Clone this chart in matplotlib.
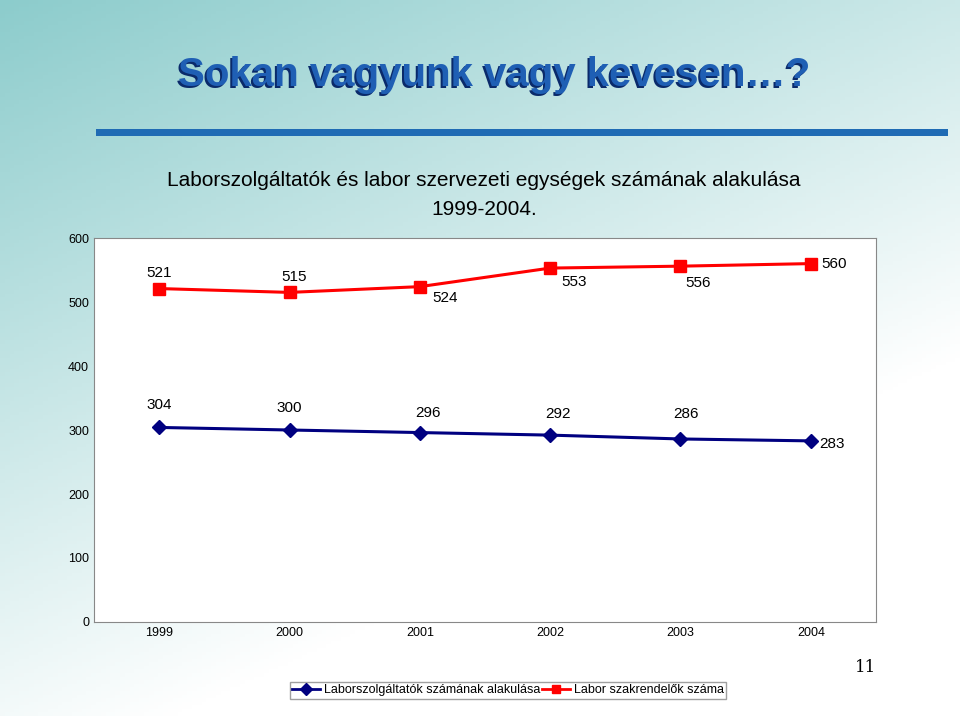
import numpy as np
import matplotlib.pyplot as plt
from matplotlib.lines import Line2D

plt.rcParams['font.family'] = 'Liberation Sans'

# data
years = ['1999', '2000', '2001', '2002', '2003', '2004']
szolg = [304, 300, 296, 292, 286, 283]
rendelo = [521, 515, 524, 553, 556, 560]
yticks = [0, 100, 200, 300, 400, 500, 600]

W, H = 960, 716
fig = plt.figure(figsize=(9.6, 7.16), dpi=100)

# background gradient (teal top-left fading to white)
bg = fig.add_axes([0, 0, 1, 1], zorder=-5)
yy, xx = np.mgrid[0:1:200j, 0:1:200j]
t = np.clip(1 - (0.55 * xx + 0.9 * yy), 0, 1)
c0 = np.array([0.55, 0.80, 0.80])
c1 = np.array([1.0, 1.0, 1.0])
img = c1 + (c0 - c1) * t[..., None]
bg.imshow(img, extent=[0, 1, 0, 1], origin='upper', aspect='auto')
bg.set_axis_off()

fig.text(178 / W, 1 - 75 / H, 'Sokan vagyunk vagy kevesen…?', fontsize=29,
         fontweight='bold', color='#1f5fb4', va='center', zorder=2)
fig.text(176 / W, 1 - 77 / H, 'Sokan vagyunk vagy kevesen…?', fontsize=29,
         fontweight='bold', color='#0a2a6a', va='center', zorder=1)
bar = fig.add_axes([96 / W, 1 - 136 / H, 852 / W, 7 / H])
bar.set_facecolor('#1f6bb4')
bar.set_xticks([]); bar.set_yticks([])
for s in bar.spines.values():
    s.set_visible(False)

fig.text(484 / W, 1 - 180 / H, 'Laborszolgáltatók és labor szervezeti egységek számának alakulása',
         fontsize=15, ha='center', va='center')
fig.text(484 / W, 1 - 210 / H, '1999-2004.', fontsize=15, ha='center', va='center')

ax = fig.add_axes([94 / W, 1 - 622 / H, 782 / W, 384 / H])
ax.set_facecolor('white')
for s in ax.spines.values():
    s.set_color('#888888')

x = np.arange(len(years))
ax.plot(x, szolg, color='#000080', marker='D', markersize=7, lw=2.2, clip_on=False)
ax.plot(x, rendelo, color='red', marker='s', markersize=8, lw=2.2, clip_on=False)
ax.set_xlim(-0.5, 5.5)
ax.set_ylim(0, 596)
ax.set_yticks(yticks)
ax.set_xticks(x, years)
ax.tick_params(labelsize=9, length=0)

blue_off = [(0, 16), (0, 16), (6, 14), (6, 15), (4, 18), (15, -2)]
for i, v in enumerate(szolg):
    dx, dy = blue_off[i]
    ax.annotate(str(v), (i, v), xytext=(dx, dy), textcoords='offset points',
                ha='center', va='center', fontsize=11)
red_pos = [(0, 10), (3, 10), (18, -8), (17, -10), (13, -12), (17, 0)]
red_pos = [(0, 10), (3, 10), (18, -8), (17, -10), (13, -12), (17, 0)]
red_pos = [(0, 11), (3, 11), (18, -8), (17, -10), (13, -12), (17, 0)]
for i, v in enumerate(rendelo):
    dx, dy = red_pos[i]
    ax.annotate(str(v), (i, v), xytext=(dx, dy), textcoords='offset points',
                ha='center', va='center', fontsize=11)

handles = [Line2D([], [], color='#000080', marker='D', lw=2, markersize=6),
           Line2D([], [], color='red', marker='s', lw=2, markersize=6)]
fig.legend(handles, ['Laborszolgáltatók számának alakulása', 'Labor szakrendelők száma'],
           loc='center', bbox_to_anchor=(508 / W, 1 - 690 / H), ncol=2, fontsize=9,
           frameon=True, fancybox=False, edgecolor='#888888', handlelength=2.2,
           columnspacing=0.2, handletextpad=0.3, borderpad=0.2)

fig.text(866 / W, 1 - 668 / H, '11', fontsize=12, ha='center', va='center', family='DejaVu Serif')

fig.savefig('out.png', dpi=100)
